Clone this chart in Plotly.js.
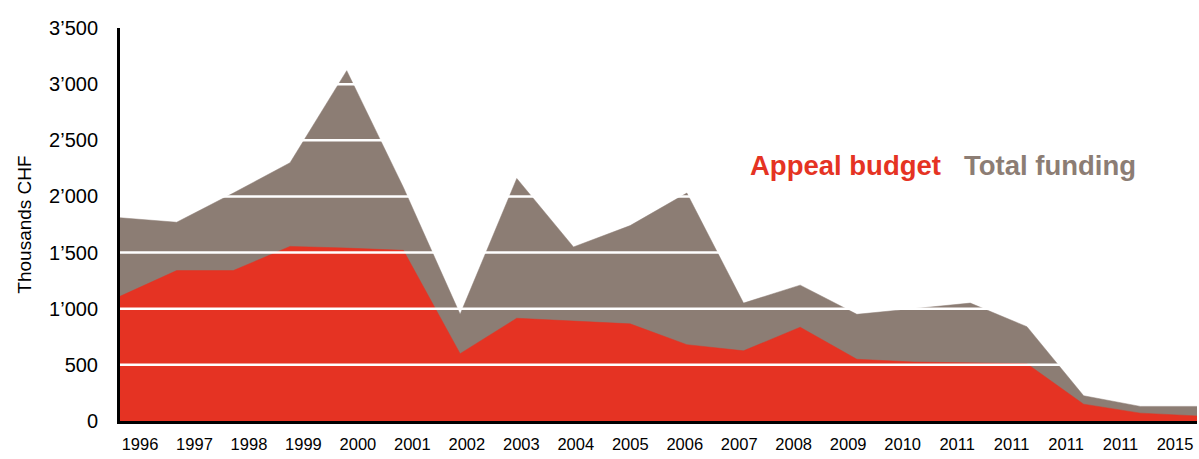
<!DOCTYPE html>
<html>
<head>
<meta charset="utf-8">
<script src="https://cdn.plot.ly/plotly-3.0.1.min.js"></script>
<style>html,body{margin:0;padding:0;background:#fff;}#chart{width:1199px;height:459px;}</style>
</head>
<body>
<div id="chart"></div>
<script>
// Category labels (as printed on the x axis)
const years = ["1996","1997","1998","1999","2000","2001","2002","2003","2004","2005",
               "2006","2007","2008","2009","2010","2011","2011","2011","2011","2015"];
// Thousands CHF
const totalFunding = [1810,1770,2030,2300,3120,2080,950,2160,1550,1740,
                      2030,1050,1210,950,1000,1050,840,225,130,130];
const appealBudget = [1110,1340,1340,1555,1540,1520,600,915,890,865,
                      680,625,835,550,525,515,510,150,70,45];
const yTicks = [0,500,1000,1500,2000,2500,3000,3500];
const yTickText = ["0","500","1\u2019000","1\u2019500","2\u2019000","2\u2019500","3\u2019000","3\u2019500"];

const idx = years.map((_, i) => i);
const FONT = "Liberation Sans, Arial, sans-serif";
const RED = "#E53323", GRAY = "#8C7D74";

const traces = [
  {x: idx, y: totalFunding, type: "scatter", mode: "lines", fill: "tozeroy",
   fillcolor: GRAY, line: {color: GRAY, width: 0.5}, name: "Total funding", hoverinfo: "y"},
  {x: idx, y: appealBudget, type: "scatter", mode: "lines", fill: "tozeroy",
   fillcolor: RED, line: {color: RED, width: 0.5}, name: "Appeal budget", hoverinfo: "y"}
];

const gridShapes = yTicks.filter(v => v > 0 && v < 3500).map(v => ({
  type: "line", xref: "paper", x0: 0, x1: 1, yref: "y", y0: v, y1: v,
  line: {color: "#ffffff", width: 2.5}, layer: "above"
}));

const layout = {
  width: 1199, height: 459,
  margin: {l: 120, r: 2, t: 28, b: 38},
  paper_bgcolor: "#ffffff", plot_bgcolor: "#ffffff",
  showlegend: false,
  font: {family: FONT, color: "#000"},
  xaxis: {
    range: [0, years.length - 1], showgrid: false, zeroline: false,
    showline: true, linecolor: "#000", linewidth: 3,
    tickmode: "array",
    tickvals: years.map((_, i) => 0.353 + 0.961 * i),
    ticktext: years, ticks: "", ticklabelstandoff: 6,
    tickfont: {size: 16.5, family: FONT, color: "#000"}
  },
  yaxis: {
    range: [0, 3500], showgrid: false, zeroline: false,
    showline: true, linecolor: "#000", linewidth: 3,
    tickmode: "array", tickvals: yTicks, ticktext: yTickText,
    ticks: "", ticklabelstandoff: 15,
    tickfont: {size: 20, family: FONT, color: "#000"},
    title: {text: "Thousands CHF", font: {size: 19, family: FONT, color: "#000"}, standoff: 13}
  },
  shapes: gridShapes,
  annotations: [
    {text: "<b>Appeal budget</b>", xref: "paper", yref: "paper", x: 0.583, y: 0.651,
     xanchor: "left", yanchor: "middle", showarrow: false,
     font: {size: 27.5, family: FONT, color: RED}},
    {text: "<b>Total funding</b>", xref: "paper", yref: "paper", x: 0.7815, y: 0.651,
     xanchor: "left", yanchor: "middle", showarrow: false,
     font: {size: 27.5, family: FONT, color: GRAY}}
  ]
};

Plotly.newPlot("chart", traces, layout, {displayModeBar: false, staticPlot: true});
</script>
</body>
</html>
